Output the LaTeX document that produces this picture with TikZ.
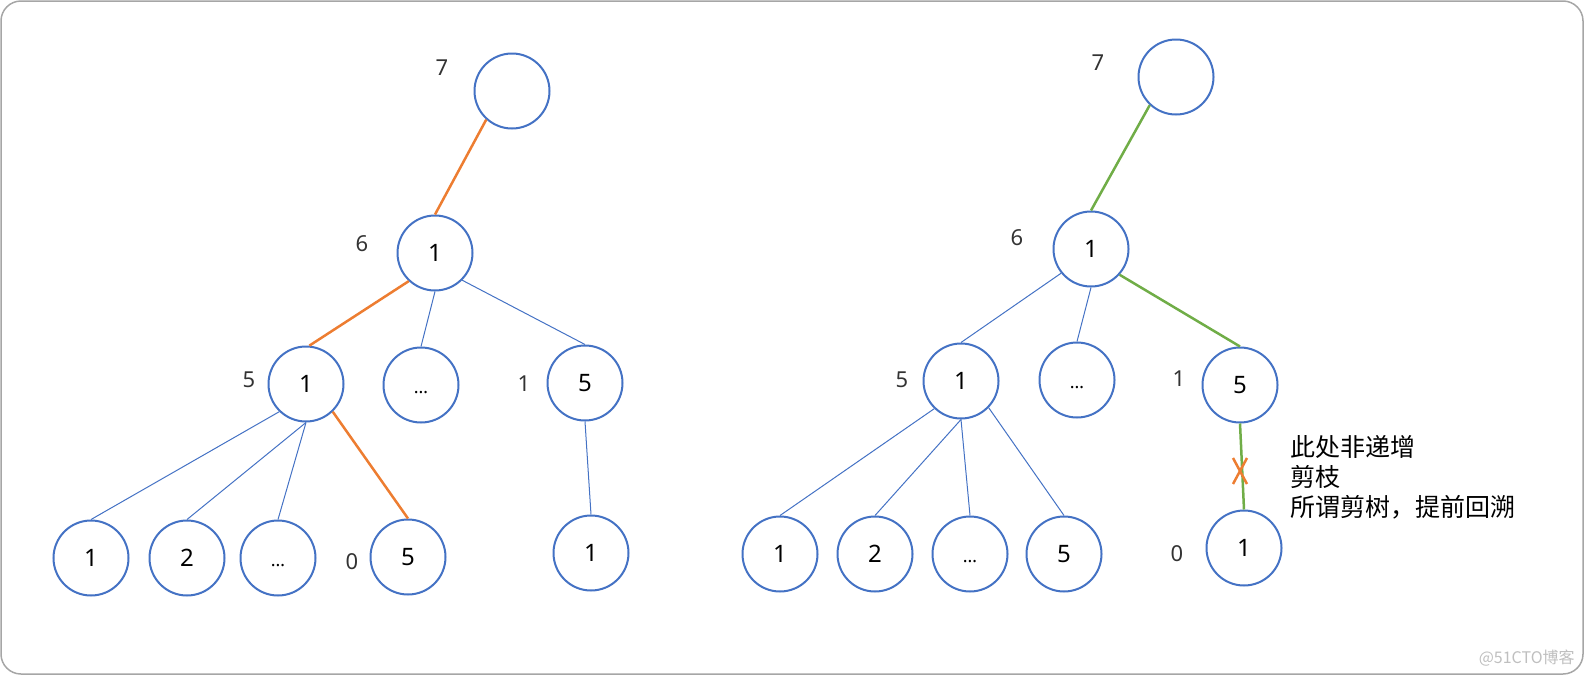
\documentclass[tikz,border=0pt]{standalone}
\usepackage{fontspec}
\setmainfont{Noto Sans}
\newfontfamily\cjk{Noto Sans CJK SC}
\usetikzlibrary{positioning}
\definecolor{ringblue}{HTML}{4472C4}
\definecolor{cutorange}{HTML}{ED7D31}
\definecolor{pathgreen}{HTML}{70AD47}
\definecolor{framegrey}{HTML}{A6A6A6}

\begin{document}
\begin{tikzpicture}[x=0.5pt, y=-0.5pt, font=\fontsize{11}{13}\selectfont,
  dot/.style={circle, draw=ringblue, line width=1pt, minimum size=37.5pt, inner sep=0pt, font=\fontsize{12}{14}\selectfont},
  num/.style={text=black!80},
  thin/.style={draw=ringblue, line width=0.5pt},
  hot/.style={draw=cutorange, line width=1.25pt},
  good/.style={draw=pathgreen, line width=1.25pt},
  cross/.style={draw=cutorange, line width=1.25pt}]
\useasboundingbox (0,0) rectangle (1584,675);
\draw[framegrey, line width=0.75pt, rounded corners=10pt] (1,1) rectangle (1583,674);

% left tree
\node[dot] (l7) at (512,91) {};
\node[dot] (l6) at (435,253) {1};
\node[dot] (l5) at (306,384) {1};
\node[dot] (ldots) at (421,385) {\vphantom{1}\small…};
\node[dot] (l1) at (585,383) {5};
\node[dot] (la) at (91,558) {1};
\node[dot] (lb) at (187,558) {2};
\node[dot] (lc) at (278,558) {\vphantom{1}\small…};
\node[dot] (ld) at (408,557) {5};
\node[dot] (le) at (591,553) {1};
\node[num] (lt7) at (442,68) {7};
\node[num] (lt6) at (362,244) {6};
\node[num] (lt5) at (249,380) {5};
\node[num] (lt1) at (524,384) {1};
\node[num] (lt0) at (352,562) {0};

\draw[hot] (l7.228) -- (l6.north);
\draw[hot] (l6.227) -- (l5.85);
\draw[thin] (l6.south) -- (ldots.north);
\draw[thin] (l6.315) -- (l1.north);
\draw[thin] (l5.226) -- (la.north);
\draw[thin] (l5.south) -- (lb.north);
\draw[thin] (l5.south) -- (lc.north);
\draw[hot] (l5.314) -- (ld.north);
\draw[thin] (l1.south) -- (le.north);

% right tree
\node[dot] (r7) at (1176,77) {};
\node[dot] (r6) at (1091,249) {1};
\node[dot] (r5) at (961,381) {1};
\node[dot] (rdots) at (1077,380) {\vphantom{1}\small…};
\node[dot] (r1) at (1240,385) {5};
\node[dot] (ra) at (780,554) {1};
\node[dot] (rb) at (875,554) {2};
\node[dot] (rc) at (970,554) {\vphantom{1}\small…};
\node[dot] (rd) at (1064,554) {5};
\node[dot] (re) at (1244,548) {1};
\node[num] (rt7) at (1098,63) {7};
\node[num] (rt6) at (1017,238) {6};
\node[num] (rt5) at (902,380) {5};
\node[num] (rt1) at (1179,379) {1};
\node[num] (rt0) at (1177,554) {0};

\draw[good] (r7.227) -- (r6.north);
\draw[thin] (r6.219) -- (r5.north);
\draw[thin] (r6.south) -- (rdots.north);
\draw[good] (r6.318) -- (r1.north);
\draw[thin] (r5.226) -- (ra.north);
\draw[thin] (r5.south) -- (rb.north);
\draw[thin] (r5.south) -- (rc.north);
\draw[thin] (r5.316) -- (rd.north);
\draw[good] (r1.south) -- (re.north);
\draw[cross] (1233,458) -- (1247,484) (1247,458) -- (1233,484);

\node[anchor=west, align=left, font=\cjk\fontsize{12.5}{15}\selectfont] (note) at (1283,477)
  {此处非递增\\剪枝\\所谓剪树，提前回溯};
\node[anchor=east, inner sep=0pt, text=black!25, font=\cjk\fontsize{8}{10}\selectfont] (mark) at (1575,658) {@51CTO博客};
\end{tikzpicture}
\end{document}
